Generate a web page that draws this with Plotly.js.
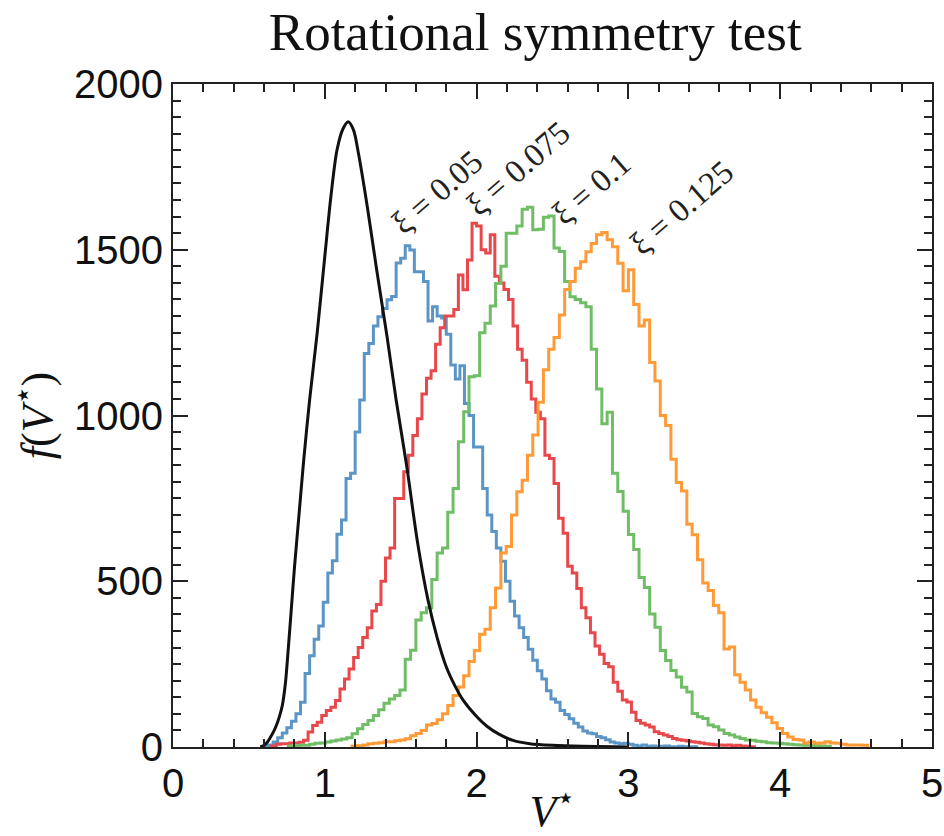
<!DOCTYPE html>
<html><head><meta charset="utf-8">
<script src="https://cdn.plot.ly/plotly-3.0.1.min.js"></script>
<style>html,body{margin:0;padding:0;background:#fff;}</style>
</head><body>
<div id="chart" style="width:944px;height:836px;"></div>
<script>
// Histogram series: bin start, bin width, counts per bin
const seriesNames = ['ξ = 0.05', 'ξ = 0.075', 'ξ = 0.1', 'ξ = 0.125'];

const blueStart = 0.60, blueWidth = 0.03;
const blueCounts = [2,6,15,28,42,58,78,100,135,222, 275,325,365,437,525,562,642,685,810,826,
  950,1047,1187,1217,1270,1298,1323,1349,1359,1460, 1474,1512,1499,1434,1434,1404,1285,1328,1300,1294,
  1245,1152,1110,1150,1036,1000,905,905,780,700, 650,600,560,500,440,395,360,330,295,262,
  230,205,170,145,135,110,98,85,72,60, 48,42,40,32,28,22,15,12,10,11,
  8,5,3,6,2,3,1,2,3,1, 1,2,1,1,1];

const redStart = 0.65, redWidth = 0.03;
const redCounts = [3,8,10,10,12,12,14,20,45,65, 75,95,110,120,140,175,205,235,270,300,
  330,360,410,430,500,570,600,750,750,830, 880,940,990,1065,1112,1135,1215,1265,1300,1300,
  1320,1424,1379,1469,1580,1572,1500,1490,1545,1420, 1400,1380,1350,1270,1200,1167,1100,1050,1010,990,
  880,870,795,690,645,545,525,478,420,390, 345,305,280,252,242,195,168,142,136,105,
  80,72,66,60,46,41,36,32,26,22, 20,18,16,14,12,10,8,7,6,5, 6,4,5,3,2,1];

const greenStart = 0.76, greenWidth = 0.035;
const greenCounts = [3,4,5,5,8,11,12,15,18,21, 24,28,40,55,68,80,95,112,132,145,
  155,172,265,292,383,405,420,505,585,600, 708,780,921,1011,1117,1120,1250,1278,1330,1398,
  1450,1550,1550,1572,1622,1628,1560,1562,1598,1602, 1505,1495,1404,1358,1350,1340,1328,1200,1080,975,
  1010,826,771,711,641,596,511,481,401,361, 291,261,231,211,180,166,101,91,86,66,
  61,51,41,36,30,26,21,20,17,16, 13,12,11,10,8,7,6,5,5,4, 3,2];

const orangeStart = 1.18, orangeWidth = 0.035;
const orangeCounts = [3,4,6,10,11,13,16,16,19,21, 25,34,41,50,66,71,82,100,125,155,
  181,215,258,291,340,355,420,480,585,605, 700,770,805,880,941,1040,1138,1200,1235,1303,
  1380,1404,1444,1464,1494,1519,1545,1552,1530,1509, 1459,1376,1440,1335,1270,1288,1160,1104,1000,970,
  868,798,772,672,640,565,495,472,427,405, 296,302,218,195,172,142,120,103,90,73,
  56,41,30,23,21,12,15,11,12,16, 12,11,8,6,6,6,5];

// Smooth reference curve
const blackV = [0.575,0.60,0.62,0.64,0.66,0.68,0.70,0.72,0.74,0.76,0.78,0.80,0.83,0.86,0.90,0.95,1.00,1.04,1.08,1.12,1.155,1.19,1.22,1.28,1.34,1.41,1.47,1.54,1.61,1.68,1.74,1.80,1.86,1.91,2.00,2.07,2.15,2.24,2.35,2.50,2.70,3.00];
const blackF = [0,5,14,28,44,64,90,125,190,300,420,540,700,860,1047,1250,1480,1660,1800,1865,1886,1860,1795,1630,1445,1238,1047,846,620,443,330,242,182,142,92,62,38,20,10,5,2,0];

// Label anchor positions (data coords)
const labelV = [1.74, 2.27, 2.76, 3.35];
const labelF = [1675, 1745, 1685, 1625];

const xTicks = [0,1,2,3,4,5];
const yTicks = [0,500,1000,1500,2000];

const colors = ['#5b95c6', '#e8474b', '#6fbe66', '#ff9a36'];

function stepXY(start, width, counts) {
  const x = [start], y = [0];
  for (let i = 0; i < counts.length; i++) { x.push(start + i * width); y.push(counts[i]); }
  x.push(start + counts.length * width); y.push(0);
  return {x, y};
}

const hist = [
  stepXY(blueStart, blueWidth, blueCounts),
  stepXY(redStart, redWidth, redCounts),
  stepXY(greenStart, greenWidth, greenCounts),
  stepXY(orangeStart, orangeWidth, orangeCounts)
];

const traces = hist.map((h, i) => ({
  type: 'scatter', mode: 'lines', x: h.x, y: h.y, name: seriesNames[i],
  line: {shape: 'hv', color: colors[i], width: 3}, hoverinfo: 'x+y+name'
}));
traces.push({type: 'scatter', mode: 'lines', x: blackV, y: blackF, name: 'reference',
  line: {shape: 'spline', smoothing: 0.8, color: '#111111', width: 3}});

const annotations = seriesNames.map((t, i) => ({
  x: labelV[i], y: labelF[i], xref: 'x', yref: 'y', text: t, showarrow: false,
  textangle: -41, font: {family: 'Liberation Serif, DejaVu Serif, serif', size: 33, color: '#222'}
}));

const axisCommon = {
  showgrid: false, zeroline: false, showline: true, linewidth: 2, linecolor: '#222',
  mirror: 'ticks', ticks: 'inside', ticklen: 15, tickwidth: 2, tickcolor: '#222',
  tickfont: {family: 'Liberation Sans, Arial, sans-serif', size: 40, color: '#111'}
};

const layout = {
  width: 944, height: 836,
  margin: {l: 173, r: 12, t: 84, b: 89},
  paper_bgcolor: '#fff', plot_bgcolor: '#fff', showlegend: false,
  title: {text: 'Rotational symmetry test', font: {family: 'Liberation Serif, serif', size: 53, color: '#111'},
    xref: 'container', x: 0.567, xanchor: 'center', yref: 'container', y: 0.962, yanchor: 'middle'},
  xaxis: Object.assign({}, axisCommon, {
    range: [0, 5], tickmode: 'array', tickvals: xTicks, ticktext: xTicks.map(String),
    minor: {dtick: 0.2, tick0: 0, ticks: 'inside', ticklen: 8, tickwidth: 1.5, tickcolor: '#222', showgrid: false},
    title: {text: '<i>V</i><sup>⋆</sup>', font: {family: 'Liberation Serif, serif', size: 44, color: '#111'}, standoff: 5},
    automargin: false
  }),
  yaxis: Object.assign({}, axisCommon, {
    range: [0, 2000], tickmode: 'array', tickvals: yTicks, ticktext: yTicks.map(String),
    minor: {dtick: 50, tick0: 0, ticks: 'inside', ticklen: 8, tickwidth: 1.5, tickcolor: '#222', showgrid: false},
    title: {text: '<i>f</i>(<i>V</i><sup>⋆</sup>)', font: {family: 'Liberation Serif, serif', size: 44, color: '#111'}, standoff: 8},
    automargin: false
  }),
  annotations: annotations
};

Plotly.newPlot('chart', traces, layout, {displayModeBar: false});
</script>
</body></html>
